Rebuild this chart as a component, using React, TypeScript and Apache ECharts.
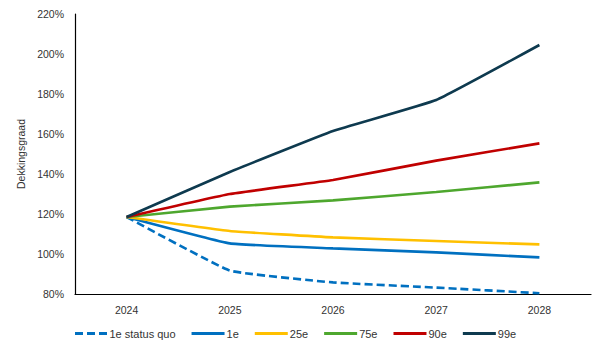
import React, { useEffect, useRef } from "react";
import * as echarts from "echarts";

const years = ["2024", "2025", "2026", "2027", "2028"];
const sq1 = [118.5, 91.7, 85.8, 83.2, 80.4];
const p1 = [118.5, 105.3, 102.8, 100.8, 98.3];
const p25 = [118.5, 111.5, 108.3, 106.5, 104.8];
const p75 = [118.5, 123.7, 126.8, 131, 135.8];
const p90 = [118.5, 130, 137, 146.7, 155.3];
const p99 = [118.5, 141, 161.5, 177, 204.5];

const seriesDefs = [
  { name: "1e status quo", data: sq1, color: "#0070C0", dashed: true },
  { name: "1e", data: p1, color: "#0070C0", dashed: false },
  { name: "25e", data: p25, color: "#FFC000", dashed: false },
  { name: "75e", data: p75, color: "#4EA72E", dashed: false },
  { name: "90e", data: p90, color: "#C00000", dashed: false },
  { name: "99e", data: p99, color: "#0E3A4F", dashed: false },
];

export default function App() {
  const ref = useRef<HTMLDivElement>(null);
  useEffect(() => {
    const chart = echarts.init(ref.current!, null, { renderer: "svg" });
    const font = "Liberation Sans, Arial, sans-serif";
    chart.setOption({
      animation: false,
      textStyle: { fontFamily: font },
      grid: { left: 75, right: 14, top: 14, bottom: 62 },
      legend: {
        bottom: 12,
        left: 70,
        itemWidth: 33,
        itemHeight: 3,
        itemGap: 16,
        icon: "rect",
        textStyle: { fontSize: 11, color: "#333", fontFamily: font, padding: [0, 0, 0, -3] },
        data: seriesDefs.map((s) => ({
          name: s.name,
          icon: s.dashed
            ? "path://M0,0H8V3H0Z M12,0H20V3H12Z M24,0H32V3H24Z"
            : "rect",
        })),
      },
      xAxis: {
        type: "category",
        data: years,
        boundaryGap: true,
        axisLine: { lineStyle: { color: "#000", width: 1.2 } },
        axisTick: { show: false },
        axisLabel: { color: "#333", fontSize: 10.5, margin: 10 },
      },
      yAxis: {
        type: "value",
        min: 80,
        max: 220,
        interval: 20,
        name: "Dekkingsgraad",
        nameLocation: "middle",
        nameGap: 44,
        nameTextStyle: { color: "#333", fontSize: 10.5 },
        splitLine: { show: false },
        axisLine: { show: true, lineStyle: { color: "#000", width: 1.2 } },
        axisTick: { show: false },
        axisLabel: { color: "#333", fontSize: 10.5, margin: 11, formatter: (v: number) => v + "%" },
      },
      series: seriesDefs.map((s) => ({
        name: s.name,
        type: "line",
        data: s.data,
        smooth: 0.1,
        showSymbol: false,
        symbol: "none",
        color: s.color,
        lineStyle: {
          color: s.color,
          width: 2.6,
          type: s.dashed ? [8, 4] : "solid",
        },
      })),
    });
    return () => chart.dispose();
  }, []);
  return <div ref={ref} style={{ width: 605, height: 356, position: "absolute", left: 0, top: 0 }} />;
}
